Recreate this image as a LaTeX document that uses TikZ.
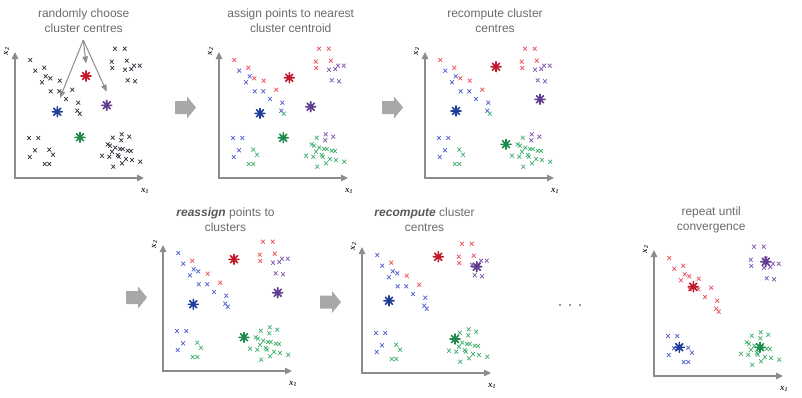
\documentclass[tikz,border=0pt]{standalone}
\usepackage{fontspec}
\setmainfont{Liberation Sans}
\newfontfamily\axisfont{Liberation Serif}
\usetikzlibrary{arrows.meta}
\definecolor{cr}{HTML}{EE4B55}
\definecolor{cb}{HTML}{4D5BD0}
\definecolor{cp}{HTML}{7B52AB}
\definecolor{cg}{HTML}{3CB06A}
\definecolor{ck}{HTML}{2E2E3C}
\definecolor{Cr}{HTML}{C0192B}
\definecolor{Cb}{HTML}{1F3C99}
\definecolor{Cp}{HTML}{603D8F}
\definecolor{Cg}{HTML}{1E8B4C}
\definecolor{axisgray}{HTML}{8C8C8C}
\definecolor{titlegray}{HTML}{6B6B6B}
\definecolor{blockgray}{HTML}{A8A8A8}
\definecolor{labelnavy}{HTML}{23233A}
% x / y / colour in panels 2-3 / colour in panels 4-5 / final colour
\def\ptlist{15.3/-118/cr/cb/cr, 20.3/-107.3/cb/cb/cr, 29.3/-110.3/cr/cr/cr, 30.7/-101.7/cb/cb/cr,
35.3/-99.7/cr/cb/cr, 27/-95.7/cb/cb/cr, 44.7/-97.3/cr/cr/cr, 35.7/-86.7/cb/cb/cr, 44.3/-86.7/cb/cb/cr,
57.3/-88.3/cr/cr/cr, 51/-79/cb/cb/cr, 63.3/-75.3/cb/cb/cr, 62.3/-67.3/cb/cb/cr, 64.7/-64.3/cg/cb/cr,
100/-129.3/cr/cr/cp, 109.7/-129.3/cr/cr/cp, 96.7/-116.3/cr/cr/cp, 111.7/-117.3/cr/cr/cp, 97.3/-110/cr/cr/cp,
110/-108.3/cp/cp/cp, 116.3/-109/cp/cp/cp, 119/-112.3/cp/cp/cp, 124.7/-112.3/cp/cp/cp, 112.7/-97.7/cp/cp/cp, 120/-96.7/cp/cp/cp,
14/-40/cb/cb/cb, 23.3/-40/cb/cb/cb, 20/-27.7/cb/cb/cb, 14.7/-21/cb/cb/cb, 34.3/-28.3/cg/cg/cb, 38/-23.3/cg/cg/cb,
29.7/-14/cg/cg/cb, 34.3/-14/cg/cg/cb,
97.7/-40.3/cg/cg/cg, 106.7/-43.7/cp/cg/cg, 114.3/-41.3/cp/cg/cg, 106.3/-37.7/cp/cg/cg, 92.7/-33.7/cg/cg/cg,
95/-32.3/cg/cg/cg, 100.3/-30.3/cg/cg/cg, 105/-29/cg/cg/cg, 107.7/-29/cg/cg/cg, 112.7/-27.3/cg/cg/cg,
116/-27/cg/cg/cg, 87/-22.3/cg/cg/cg, 94.3/-21.3/cg/cg/cg, 97/-26.3/cg/cg/cg, 102.7/-23/cg/cg/cg,
103.7/-21.3/cg/cg/cg, 111/-19/cg/cg/cg, 117/-18/cg/cg/cg, 125.3/-16.3/cg/cg/cg, 107/-14.7/cg/cg/cg, 98.3/-11.3/cg/cg/cg}
\newcommand\drawpts[1]{\foreach \x/\y/\a/\b/\c in \ptlist {%
  \draw[ptstyle,draw=#1] (\x,\y) +(-1.9,-2) -- +(1.9,2) +(-1.9,2) -- +(1.9,-2);}}
\newcommand\centroid[3]{\draw[centroidstyle,draw=#3] (#1,#2) +(-5,0) -- +(5,0) +(0,-5) -- +(0,5)
  +(-3.55,-3.55) -- +(3.55,3.55) +(-3.55,3.55) -- +(3.55,-3.55);}
\newcommand\panelaxes[1]{%
  \coordinate (#1top) at (0,-126); \coordinate (#1o) at (0,0); \coordinate (#1end) at (129,0);
  \draw[axisstyle] (#1top) -- (#1o) -- (#1end);
  \node[xlab] (#1xa) at (130,12.5) {x\textsubscript{\itshape 1}};
  \node[xlab,rotate=90] (#1xb) at (-8.5,-127) {x\textsubscript{\itshape 2}};}
\newcommand\blockarrow[2]{\fill[blockgray] (#1,#2-6.5) -- (#1+12,#2-6.5) -- (#1+12,#2-11) -- (#1+21,#2)
  -- (#1+12,#2+11) -- (#1+12,#2+6.5) -- (#1,#2+6.5) -- cycle;}
\begin{document}
\begin{tikzpicture}[x=1pt,y=-1pt,
  ptstyle/.style={line width=0.7pt},
  centroidstyle/.style={line width=1.6pt,line cap=round},
  axisstyle/.style={draw=axisgray,line width=1.1pt,{Triangle[length=7pt,width=6.5pt]}-{Triangle[length=7pt,width=6.5pt]}},
  xlab/.style={font=\axisfont\bfseries\itshape\fontsize{9}{10}\selectfont,text=labelnavy,inner sep=0pt},
  titlestyle/.style={align=center,text=titlegray,font=\fontsize{12}{15}\selectfont,inner sep=0pt},
  pointer/.style={draw=axisgray,line width=1pt,-{Triangle[length=7pt,width=5.5pt]}}]
\useasboundingbox (0,0) rectangle (802,397);
% titles
\node[titlestyle] (t1) at (83.7,21) {randomly choose\\cluster centres};
\node[titlestyle] (t2) at (290.7,21) {assign points to nearest\\cluster centroid};
\node[titlestyle] (t3) at (495,21) {recompute cluster\\centres};
\node[titlestyle] (t4) at (225.5,220) {\textcolor{black!65}{\textbf{\textit{reassign}}} points to\\clusters};
\node[titlestyle] (t5) at (424.5,220) {\textcolor{black!65}{\textbf{\textit{recompute}}} cluster\\centres};
\node[titlestyle] (t6) at (711.2,220) {repeat until\\convergence};
% block arrows
\blockarrow{175}{107.5}
\blockarrow{382}{107.5}
\blockarrow{126}{297.5}
\blockarrow{320}{302}
% dots
\foreach \d in {560,570,580} {\fill[black!40] (\d-1.3,303.7) rectangle (\d+1.3,306.3);}
% panel 1
\begin{scope}[shift={(15,178)}]
  \panelaxes{p1}
  \drawpts{ck}
  \centroid{71}{-102}{Cr}
  \centroid{91.7}{-72.7}{Cp}
  \centroid{42.3}{-66.3}{Cb}
  \centroid{65}{-40.7}{Cg}
\end{scope}
\coordinate (a0) at (83.3,40);
\coordinate (a1) at (60,98);
\coordinate (a2) at (86,63.5);
\coordinate (a3) at (106.7,91.7);
\draw[pointer] (a0) -- (a1);
\draw[pointer] (a0) -- (a2);
\draw[pointer] (a0) -- (a3);
% panel 2
\begin{scope}[shift={(219,178)}]
  \panelaxes{p2}
  \drawpts{\a}
  \centroid{70.3}{-100.3}{Cr}
  \centroid{91.7}{-71.3}{Cp}
  \centroid{41}{-64.7}{Cb}
  \centroid{64.3}{-40.3}{Cg}
\end{scope}
% panel 3
\begin{scope}[shift={(425,178)}]
  \panelaxes{p3}
  \drawpts{\a}
  \centroid{71}{-111.3}{Cr}
  \centroid{115}{-78.7}{Cp}
  \centroid{31}{-67}{Cb}
  \centroid{81}{-33.7}{Cg}
\end{scope}
% panel 4
\begin{scope}[shift={(163,371)}]
  \panelaxes{p4}
  \drawpts{\b}
  \centroid{71}{-111.7}{Cr}
  \centroid{114.7}{-78.3}{Cp}
  \centroid{30.3}{-66.7}{Cb}
  \centroid{81}{-33.7}{Cg}
\end{scope}
% panel 5
\begin{scope}[shift={(362,373)}]
  \panelaxes{p5}
  \drawpts{\b}
  \centroid{76.3}{-116.3}{Cr}
  \centroid{114.7}{-106.3}{Cp}
  \centroid{27}{-72.3}{Cb}
  \centroid{93}{-34}{Cg}
\end{scope}
% panel 6
\begin{scope}[shift={(654,376)}]
  \panelaxes{p6}
  \drawpts{\c}
  \centroid{39.3}{-89.3}{Cr}
  \centroid{111.7}{-114.3}{Cp}
  \centroid{25.3}{-28.7}{Cb}
  \centroid{106}{-28.7}{Cg}
\end{scope}
\end{tikzpicture}
\end{document}
